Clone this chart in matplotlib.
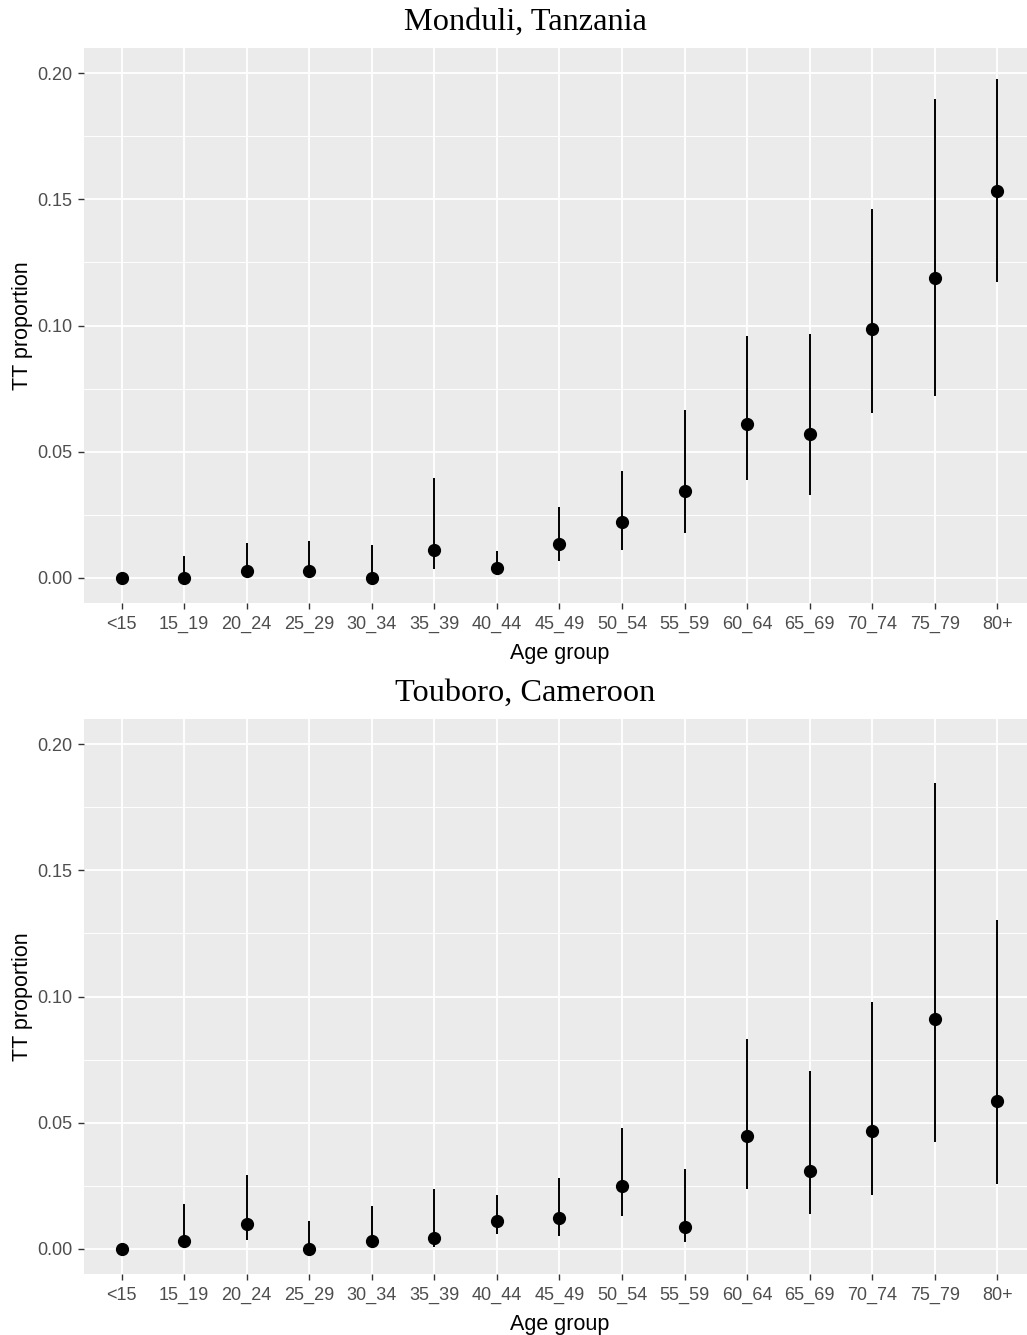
import numpy as np
import matplotlib
matplotlib.use("Agg")
import matplotlib.pyplot as plt
from matplotlib.ticker import MultipleLocator

# Age groups and estimates
age_groups = ['<15', '15_19', '20_24', '25_29', '30_34', '35_39', '40_44', '45_49',
              '50_54', '55_59', '60_64', '65_69', '70_74', '75_79', '80+']

# Monduli, Tanzania
mon_est = [0.000, 0.000, 0.0028, 0.0028, 0.000, 0.011, 0.0038, 0.0135,
           0.022, 0.0345, 0.0611, 0.0569, 0.0987, 0.119, 0.1533]
mon_lo = [0.000, 0.000, 0.0004, 0.0004, 0.000, 0.0033, 0.0010, 0.0067,
          0.011, 0.0177, 0.0388, 0.0328, 0.0654, 0.072, 0.1172]
mon_hi = [0.000, 0.0086, 0.0136, 0.0147, 0.0128, 0.0394, 0.0105, 0.0279,
          0.0423, 0.0665, 0.096, 0.0966, 0.1462, 0.1896, 0.1979]

# Touboro, Cameroon
tou_est = [0.000, 0.0032, 0.0098, 0.000, 0.0032, 0.0044, 0.0111, 0.0123,
           0.025, 0.0086, 0.0448, 0.031, 0.0467, 0.0911, 0.0587]
tou_lo = [0.000, 0.0005, 0.0035, 0.000, 0.0005, 0.0008, 0.0057, 0.005,
          0.0129, 0.0027, 0.0237, 0.0136, 0.0213, 0.0425, 0.0257]
tou_hi = [0.000, 0.0177, 0.0292, 0.0111, 0.0171, 0.0237, 0.0213, 0.0279,
          0.0479, 0.0315, 0.0833, 0.0706, 0.0979, 0.1847, 0.1304]

panels = [
    ("Monduli, Tanzania", mon_est, mon_lo, mon_hi),
    ("Touboro, Cameroon", tou_est, tou_lo, tou_hi),
]

W, H = 1027, 1335
fig = plt.figure(figsize=(W / 100, H / 100), dpi=100)

sans = ['Liberation Sans', 'DejaVu Sans']
serif = ['Liberation Serif', 'DejaVu Serif']

# panel boxes in pixels: (top, bottom)
boxes = [(48, 603), (719, 1274)]
title_y = [22, 693]
left_px = 84

x = np.arange(len(age_groups))

for (title, est, lo, hi), (top, bot), ty in zip(panels, boxes, title_y):
    ax = fig.add_axes([left_px / W, 1 - bot / H, (W - left_px) / W, (bot - top) / H])
    ax.set_facecolor('#EBEBEB')
    for s in ax.spines.values():
        s.set_visible(False)

    ax.set_xlim(-0.6, 14.475)

    ax.yaxis.set_major_locator(MultipleLocator(0.05))
    ax.yaxis.set_minor_locator(MultipleLocator(0.025))
    ax.set_xticks(x)
    ax.set_xticklabels(age_groups)
    ax.set_ylim(-0.01, 0.21)
    yt = [0.0, 0.05, 0.10, 0.15, 0.20]
    ax.set_yticks(yt)
    ax.set_yticklabels([f"{v:.2f}" for v in yt])

    ax.grid(which='major', color='white', linewidth=1.3)
    ax.grid(which='minor', axis='y', color='white', linewidth=0.65)
    ax.set_axisbelow(True)

    ax.tick_params(which='major', length=4.5, width=1.0, color='#333333',
                   labelcolor='#4D4D4D', labelsize=13, pad=4)
    ax.tick_params(axis='x', pad=5)
    ax.tick_params(which='minor', length=0)
    for lab in ax.get_xticklabels() + ax.get_yticklabels():
        lab.set_family(sans)

    ax.vlines(x, lo, hi, color='black', linewidth=1.4, zorder=3)
    ax.plot(x, est, 'o', color='black', markersize=8.5, zorder=4)

    ax.set_xlabel('Age group', fontsize=15.5, family=sans, color='black')
    ax.set_ylabel('TT proportion', fontsize=15.5, family=sans, color='black')
    ax.xaxis.set_label_coords((560 - left_px) / (W - left_px), -0.072)
    ax.yaxis.set_label_coords(-0.054, 0.5)

    fig.text(525 / W, 1 - ty / H, title, ha='center', va='center',
             fontsize=23.3, family=serif, color='black')

fig.savefig('out.png', dpi=100)
